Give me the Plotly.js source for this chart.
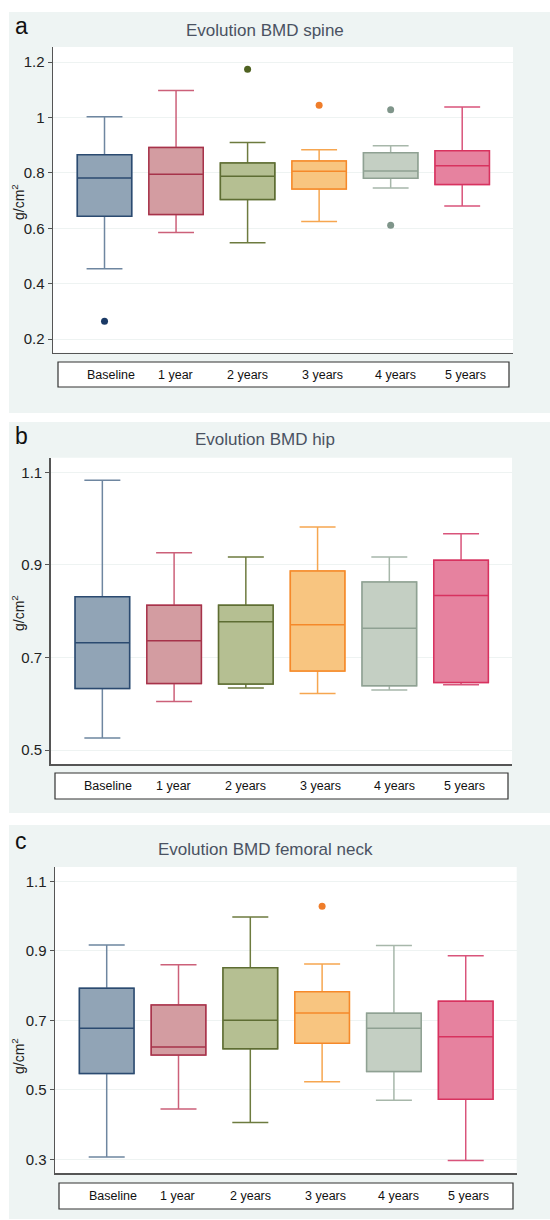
<!DOCTYPE html>
<html>
<head>
<meta charset="utf-8">
<script src="https://cdn.plot.ly/plotly-3.0.1.min.js"></script>
<style>
html,body{margin:0;padding:0;background:#ffffff;}
#chart{width:550px;height:1220px;}
</style>
</head>
<body>
<div id="chart"></div>
<script>
// ---------------- data ----------------
const categories = ['Baseline', '1 year', '2 years', '3 years', '4 years', '5 years'];
const panelLetters = ['a', 'b', 'c'];
const panelTitles = ['Evolution BMD spine', 'Evolution BMD hip', 'Evolution BMD femoral neck'];
const yAxisTitle = 'g/cm<sup>2</sup>';

// Spine
const spineLower  = [0.454, 0.585, 0.548, 0.625, 0.746, 0.681];
const spineQ1     = [0.644, 0.650, 0.704, 0.742, 0.781, 0.758];
const spineMedian = [0.782, 0.795, 0.788, 0.806, 0.807, 0.826];
const spineQ3     = [0.866, 0.892, 0.836, 0.843, 0.873, 0.880];
const spineUpper  = [1.003, 1.098, 0.910, 0.884, 0.898, 1.038];
const spineOutlierCat = ['Baseline', '2 years', '3 years', '4 years', '4 years'];
const spineOutlierVal = [0.265, 1.175, 1.045, 1.028, 0.611];
const spineTickVals = [0.2, 0.4, 0.6, 0.8, 1.0, 1.2];
const spineTickText = ['0.2', '0.4', '0.6', '0.8', '1', '1.2'];

// Hip
const hipLower  = [0.526, 0.605, 0.634, 0.622, 0.630, 0.641];
const hipQ1     = [0.633, 0.644, 0.643, 0.671, 0.639, 0.646];
const hipMedian = [0.732, 0.736, 0.777, 0.771, 0.763, 0.834];
const hipQ3     = [0.831, 0.813, 0.813, 0.887, 0.863, 0.910];
const hipUpper  = [1.083, 0.926, 0.917, 0.982, 0.917, 0.967];
const hipOutlierCat = [];
const hipOutlierVal = [];
const hipTickVals = [0.5, 0.7, 0.9, 1.1];
const hipTickText = ['0.5', '0.7', '0.9', '1.1'];

// Femoral neck
const neckLower  = [0.307, 0.445, 0.406, 0.523, 0.470, 0.297];
const neckQ1     = [0.547, 0.600, 0.618, 0.634, 0.553, 0.473];
const neckMedian = [0.677, 0.623, 0.700, 0.721, 0.677, 0.653];
const neckQ3     = [0.792, 0.744, 0.851, 0.782, 0.720, 0.755];
const neckUpper  = [0.917, 0.860, 0.997, 0.862, 0.915, 0.886];
const neckOutlierCat = ['3 years'];
const neckOutlierVal = [1.028];
const neckTickVals = [0.3, 0.5, 0.7, 0.9, 1.1];
const neckTickText = ['0.3', '0.5', '0.7', '0.9', '1.1'];

// ---------------- style ----------------
const fillColors    = ['#91a4b6', '#d39ca1', '#b5bf92', '#f8c580', '#c4cfc3', '#e6829f'];
const borderColors  = ['#2b4a70', '#a6334a', '#5e6d33', '#f5892a', '#8fa193', '#d8325f'];
const whiskerColors = ['#6e86a0', '#cc6079', '#6d7b3f', '#f6a650', '#a7b7aa', '#d9547b'];
const outlierColors = {'Baseline': '#1b3a66', '1 year': '#a6334a', '2 years': '#4f6221', '3 years': '#ef7d2a', '4 years': '#7f958a', '5 years': '#d8325f'};
const legendShift = [6, -1, 0, 3, 5, 3];

const W = 550, H = 1220;
const fx = v => v / W;
const fy = v => 1 - v / H;

const panels = [
  {data: [spineLower, spineQ1, spineMedian, spineQ3, spineUpper], outCat: spineOutlierCat, outVal: spineOutlierVal,
   tv: spineTickVals, tt: spineTickText,
   bg: [9, 12, 550, 413], plot: [53, 47, 513, 352.7], yr: [0.151, 1.255],
   legend: [58, 362, 509, 387], legendY: 375, titleY: 30, letterY: 26, ylabY: 202},
  {data: [hipLower, hipQ1, hipMedian, hipQ3, hipUpper], outCat: hipOutlierCat, outVal: hipOutlierVal,
   tv: hipTickVals, tt: hipTickText,
   bg: [9, 422, 550, 813], plot: [50.7, 457.7, 512, 764], yr: [0.47, 1.1315],
   legend: [55, 773, 508, 799], legendY: 786, titleY: 440, letterY: 436, ylabY: 613},
  {data: [neckLower, neckQ1, neckMedian, neckQ3, neckUpper], outCat: neckOutlierCat, outVal: neckOutlierVal,
   tv: neckTickVals, tt: neckTickText,
   bg: [9, 825, 550, 1219], plot: [55, 867, 516.7, 1173.3], yr: [0.26, 1.141],
   legend: [59, 1183, 513, 1209], legendY: 1196, titleY: 849, letterY: 841, ylabY: 1056}
];

const traces = [];
const shapes = [];
const annotations = [];
const layout = {
  width: W, height: H,
  margin: {l: 0, r: 0, t: 0, b: 0},
  paper_bgcolor: '#ffffff',
  plot_bgcolor: 'rgba(0,0,0,0)',
  showlegend: false,
  boxmode: 'overlay',
  hovermode: false,
  font: {family: 'Liberation Sans, Arial, sans-serif', color: '#222222'}
};

panels.forEach((p, k) => {
  const sfx = k === 0 ? '' : String(k + 1);
  const xa = 'x' + sfx, ya = 'y' + sfx;
  const [lo, q1, med, q3, up] = p.data;

  layout['xaxis' + sfx] = {
    domain: [fx(p.plot[0]), fx(p.plot[2])],
    anchor: ya,
    type: 'category',
    categoryorder: 'array', categoryarray: categories,
    range: [-0.72, 5.71],
    showgrid: false, zeroline: false,
    showline: true, linecolor: '#555555', linewidth: 1.5,
    ticks: '', showticklabels: false, fixedrange: true
  };
  layout['yaxis' + sfx] = {
    domain: [fy(p.plot[3]), fy(p.plot[1])],
    anchor: xa,
    range: p.yr,
    tickmode: 'array', tickvals: p.tv, ticktext: p.tt,
    showgrid: true, gridcolor: '#eef3f2', gridwidth: 1,
    zeroline: false,
    showline: true, linecolor: '#555555', linewidth: 1.5,
    ticks: 'outside', ticklen: 4, tickcolor: '#555555', tickwidth: 1,
    tickfont: {size: 15, color: '#222222'}, fixedrange: true
  };

  categories.forEach((c, i) => {
    // whiskers (lighter)
    traces.push({
      type: 'box', x: [c], q1: [q1[i]], median: [med[i]], q3: [q3[i]],
      lowerfence: [lo[i]], upperfence: [up[i]],
      width: 0.76, whiskerwidth: 0.66, boxpoints: false,
      fillcolor: fillColors[i], line: {color: whiskerColors[i], width: 1.5},
      xaxis: xa, yaxis: ya, hoverinfo: 'skip'
    });
    // box + median (darker border)
    traces.push({
      type: 'box', x: [c], q1: [q1[i]], median: [med[i]], q3: [q3[i]],
      lowerfence: [q1[i]], upperfence: [q3[i]],
      width: 0.76, whiskerwidth: 0, boxpoints: false,
      fillcolor: fillColors[i], line: {color: borderColors[i], width: 1.5},
      xaxis: xa, yaxis: ya, hoverinfo: 'skip'
    });
  });

  if (p.outCat.length) {
    traces.push({
      type: 'scatter', mode: 'markers', x: p.outCat, y: p.outVal,
      marker: {size: 7, color: p.outCat.map(c => outlierColors[c])},
      xaxis: xa, yaxis: ya, hoverinfo: 'skip'
    });
  }

  // panel background
  shapes.push({type: 'rect', xref: 'paper', yref: 'paper', layer: 'below',
    x0: fx(p.bg[0]), x1: fx(p.bg[2]), y0: fy(p.bg[3]), y1: fy(p.bg[1]),
    fillcolor: '#eef4f3', line: {width: 0}});
  // white plot area
  shapes.push({type: 'rect', xref: 'paper', yref: 'paper', layer: 'below',
    x0: fx(p.plot[0]), x1: fx(p.plot[2]), y0: fy(p.plot[3]), y1: fy(p.plot[1]),
    fillcolor: '#ffffff', line: {width: 0}});
  // legend box
  shapes.push({type: 'rect', xref: 'paper', yref: 'paper', layer: 'above',
    x0: fx(p.legend[0]), x1: fx(p.legend[2]), y0: fy(p.legend[3]), y1: fy(p.legend[1]),
    fillcolor: '#ffffff', line: {color: '#333333', width: 1.2}});

  // legend labels
  categories.forEach((c, i) => {
    annotations.push({xref: xa, yref: 'paper', x: i, y: fy(p.legendY),
      text: c, showarrow: false, xanchor: 'center', yanchor: 'middle',
      xshift: legendShift[i], font: {size: 12.5, color: '#111111'}});
  });

  // title
  annotations.push({xref: 'paper', yref: 'paper', x: fx(265), y: fy(p.titleY),
    text: panelTitles[k], showarrow: false, xanchor: 'center', yanchor: 'middle',
    font: {size: 17, color: '#4a5262'}});
  // panel letter
  annotations.push({xref: 'paper', yref: 'paper', x: fx(13), y: fy(p.letterY),
    text: panelLetters[k], showarrow: false, xanchor: 'left', yanchor: 'middle',
    font: {size: 23, color: '#111111'}});
  // y axis title
  annotations.push({xref: 'paper', yref: 'paper', x: fx(18), y: fy(p.ylabY),
    text: yAxisTitle, showarrow: false, textangle: -90, xanchor: 'center', yanchor: 'middle',
    font: {size: 14, color: '#222222'}});
});

layout.shapes = shapes;
layout.annotations = annotations;

Plotly.newPlot('chart', traces, layout, {displayModeBar: false, staticPlot: true});
</script>
</body>
</html>
